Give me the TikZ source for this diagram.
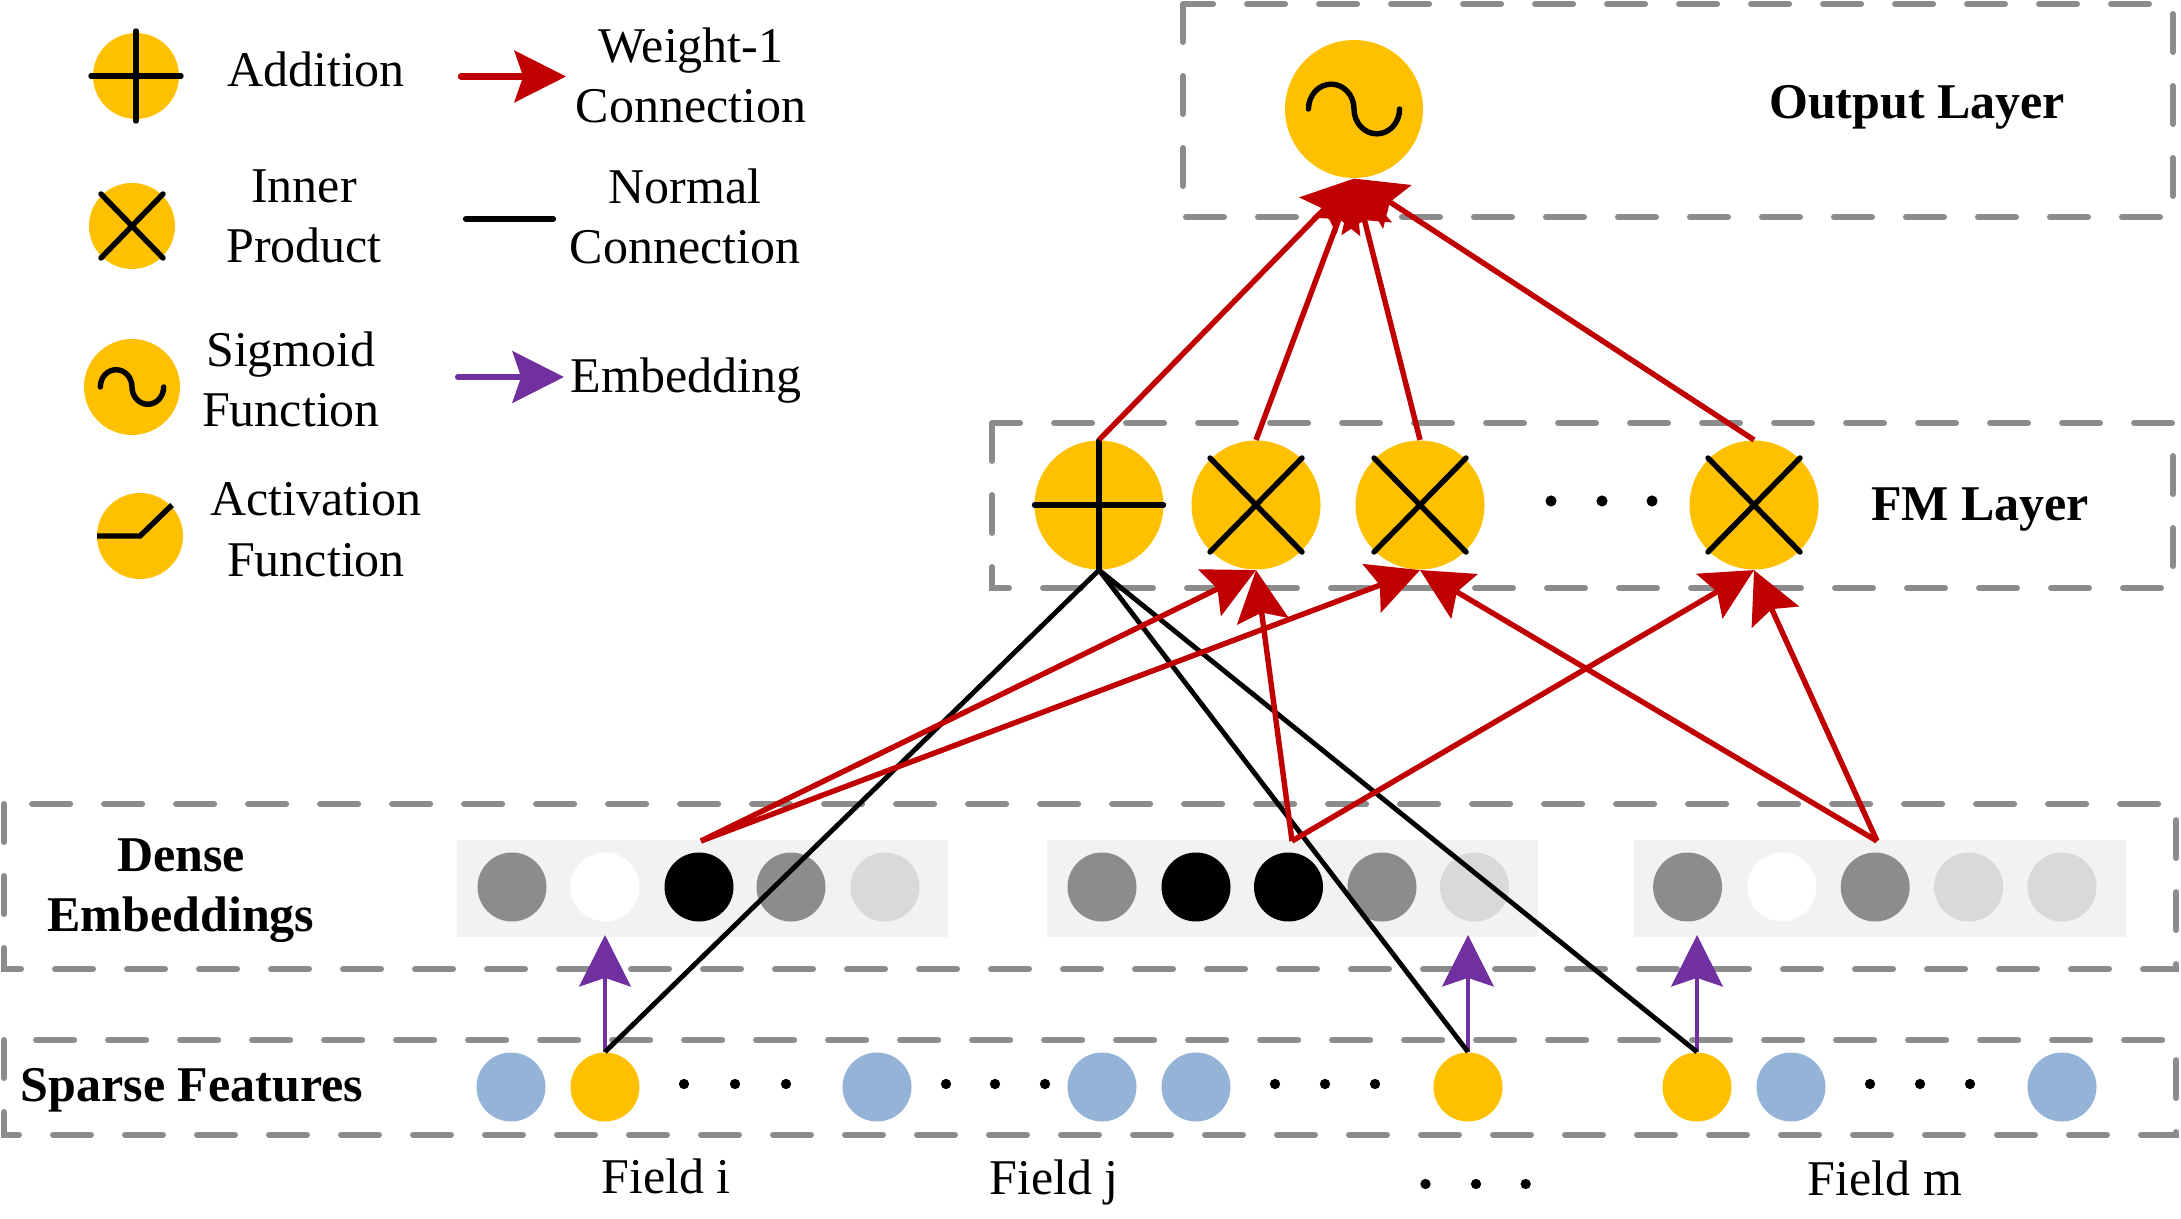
\documentclass[tikz,border=0pt]{standalone}
\usepackage{fontspec}
\setmainfont{Liberation Serif}
\usetikzlibrary{arrows.meta}
\definecolor{yel}{HTML}{FFC000}
\definecolor{dashgray}{HTML}{8C8C8C}
\definecolor{bggray}{HTML}{F2F2F2}
\definecolor{midgray}{HTML}{8C8C8C}
\definecolor{ltgray}{HTML}{D9D9D9}
\definecolor{lblue}{HTML}{95B3D7}
\definecolor{wred}{HTML}{C00000}
\definecolor{purp}{HTML}{7030A0}
\newcommand{\twolines}[2]{\begin{tabular}[t]{@{}c@{}}#1\\#2\end{tabular}}
\newcommand{\tildesym}[2]{\draw[sym] (#1) +(-0.66*#2,0) arc[start angle=180,end angle=0,x radius=0.33*#2*0.35pt,y radius=0.36*#2*0.35pt] arc[start angle=180,end angle=360,x radius=0.33*#2*0.35pt,y radius=0.36*#2*0.35pt];}
\begin{document}
\begin{tikzpicture}[x=0.35pt,y=0.35pt,
  lbl/.style={font=\fontsize{17.5}{21}\selectfont, anchor=base, inner sep=0pt},
  blbl/.style={font=\fontsize{17.5}{21}\selectfont\bfseries, anchor=base, inner sep=0pt},
  layerbox/.style={draw=dashgray, line width=2.1pt, dash pattern=on 13.3pt off 11.9pt, line cap=round},
  ycirc/.style={circle, fill=yel, inner sep=0pt, minimum size=#1},
  dot/.style={circle, fill=#1, inner sep=0pt, minimum size=24.15pt},
  sym/.style={line width=1.9pt, black, line cap=round},
  wconn/.style={draw=wred, line width=1.9pt, -{Stealth[length=18pt,width=18pt,inset=3pt]}},
  nconn/.style={draw=black, line width=1.7pt},
  emb/.style={draw=purp, line width=1.7pt, -{Stealth[length=18pt,width=18pt,inset=3pt]}},
]
\useasboundingbox (0,0) rectangle (2181,-1219);

% ---------- legend ----------
\node[ycirc=30.1pt] (ladd) at (136,-76) {};
\draw[sym] (ladd) +(-45,0) -- +(45,0) (ladd) +(0,-45) -- +(0,45);
\node[lbl] (tadd) at (316,-87) {Addition};

\node[ycirc=30.1pt] (linn) at (132,-226) {};
\draw[sym] (linn) +(-31,-32) -- +(31,32) (linn) +(-31,32) -- +(31,-32);
\node[lbl] (tinn) at (304,-203) {\twolines{Inner}{Product}};

\node[ycirc=33.6pt] (lsig) at (132,-387) {};
\tildesym{lsig}{48}
\node[lbl] (tsig) at (291,-367) {\twolines{Sigmoid}{Function}};

\node[ycirc=30.1pt] (lact) at (140,-536) {};
\draw[sym, line cap=butt] (lact) +(-43,0) -- +(0,0) -- +(32,31);
\node[lbl] (tact) at (316,-516) {\twolines{Activation}{Function}};

\coordinate (lw1) at (461,-76.5);
\coordinate (lw2) at (566,-76.5);
\draw[wconn, line width=2.2pt, line cap=round] (lw1) -- (lw2);
\node[lbl] (tw) at (691,-63) {\twolines{Weight-1}{Connection}};

\coordinate (ln1) at (466,-219);
\coordinate (ln2) at (553,-219);
\draw[line width=2.2pt, line cap=round] (ln1) -- (ln2);
\node[lbl] (tn) at (685,-204) {\twolines{Normal}{Connection}};

\coordinate (le1) at (458,-377);
\coordinate (le2) at (564,-377);
\draw[emb, line width=2.2pt, line cap=round] (le1) -- (le2);
\node[lbl] (te) at (686,-393) {Embedding};

% ---------- layer boxes ----------
\draw[layerbox] (1183,-4) rectangle (2173,-217);
\draw[layerbox] (992,-423) rectangle (2173,-588);
\draw[layerbox] (4,-804) rectangle (2176,-969);
\draw[layerbox] (4,-1040) rectangle (2176,-1135);

\node[blbl] (tout) at (1917,-119) {Output Layer};
\node[blbl] (tfm) at (1980,-521) {FM Layer};
\node[blbl] (tdense) at (181,-871) {\twolines{Dense}{Embeddings}};
\node[blbl] (tsparse) at (192,-1101) {Sparse Features};

% ---------- output ----------
\node[ycirc=48.3pt] (out) at (1354,-109) {};
\tildesym{out}{69}

% ---------- FM layer ----------
\node[ycirc=45.15pt] (fplus) at (1099,-505) {};
\draw[sym] (fplus) +(-64.5,0) -- +(64.5,0) (fplus) +(0,-64.5) -- +(0,64.5);
\foreach \n/\x in {fx1/1256, fx2/1420, fx3/1754}{
  \node[ycirc=45.15pt] (\n) at (\x,-505) {};
  \draw[sym] (\n) +(-46,-47) -- +(46,47) (\n) +(-46,47) -- +(46,-47);
}
\foreach \x in {1551,1602,1652} \fill (\x,-501) circle[radius=1.95pt];

% ---------- dense embeddings ----------
\fill[bggray] (457,-840) rectangle (948,-937);
\fill[bggray] (1047,-840) rectangle (1538,-937);
\fill[bggray] (1634,-840) rectangle (2126,-937);
\foreach \n/\x/\c in {d11/512/midgray, d12/605/white, d13/699/black, d14/791/midgray, d15/885/ltgray,
                      d21/1102/midgray, d22/1196/black, d23/1288.5/black, d24/1382/midgray, d25/1474.5/ltgray,
                      d31/1687.6/midgray, d32/1781.8/white, d33/1875.2/midgray, d34/1968.6/ltgray, d35/2062/ltgray}
  \node[dot=\c] (\n) at (\x,-887) {};

% ---------- sparse features ----------
\foreach \n/\x/\c in {s1/511/lblue, s2/605/yel, s3/877/lblue, s4/1102/lblue, s5/1196/lblue,
                      s6/1468/yel, s7/1697/yel, s8/1791/lblue, s9/2062/lblue}
  \node[dot=\c] (\n) at (\x,-1087) {};
\foreach \x in {684,735,786,946,995,1045,1275,1325,1375,1870,1920,1970} \fill (\x,-1084) circle[radius=1.8pt];

\node[lbl] (fi) at (666,-1193) {Field i};
\node[lbl] (fj) at (1054,-1194) {Field j};
\node[lbl] (fm) at (1885,-1195) {Field m};
\foreach \x in {1425.5,1476,1525.7} \fill (\x,-1184) circle[radius=1.8pt];

% ---------- connections ----------
\coordinate (embtop) at (0,-935);
\draw[emb] (s2.north) -- (s2.north |- embtop);
\draw[emb] (s6.north) -- (s6.north |- embtop);
\draw[emb] (s7.north) -- (s7.north |- embtop);

\draw[nconn] (fplus.south) -- (s2.north);
\draw[nconn] (fplus.south) -- (s6.north);
\draw[nconn] (fplus.south) -- (s7.north);

\coordinate (ei) at (701,-841);
\coordinate (ej) at (1292,-841);
\coordinate (em) at (1877,-841);
\draw[wconn] (ei) -- (fx1.south);
\draw[wconn] (ei) -- (fx2.south);
\draw[wconn] (ej) -- (fx1.south);
\draw[wconn] (ej) -- (fx3.south);
\draw[wconn] (em) -- (fx2.south);
\draw[wconn] (em) -- (fx3.south);

\draw[wconn] (fplus.north) -- (out.south);
\draw[wconn] (fx1.north) -- (out.south);
\draw[wconn] (fx2.north) -- (out.south);
\draw[wconn] (fx3.north) -- (out.south);
\end{tikzpicture}
\end{document}
